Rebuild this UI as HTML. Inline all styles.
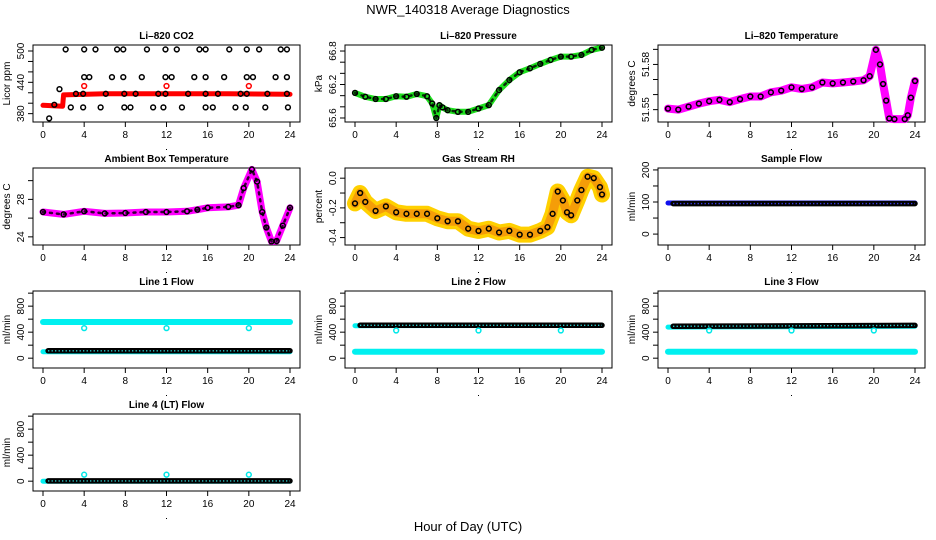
<!DOCTYPE html>
<html><head><meta charset="utf-8"><style>
html,body{margin:0;padding:0;background:#fff;}
svg{display:block;font-family:"Liberation Sans",sans-serif;}
</style></head><body>
<svg id="chart" width="936" height="540" viewBox="0 0 936 540" xmlns="http://www.w3.org/2000/svg">
<text x="468" y="14" text-anchor="middle" font-size="13">NWR_140318  Average Diagnostics</text>
<text x="468" y="531" text-anchor="middle" font-size="13">Hour of Day (UTC)</text>
</svg>
<script>
// ---- data ----
const xTicks = [0,4,8,12,16,20,24];

const co2RedHours = [0,1.9,2.0,6,12,18,24];
const co2RedVals = [396,394,416,418,418,418,417];
const co2BlackHours = [2.2,4.0,5.1,7.2,7.8,10.1,11.9,13.0,15.2,15.8,18.1,19.8,21.0,23.1,23.7,
 4.0,4.5,6.7,9.6,11.9,12.5,14.7,17.6,19.8,20.4,22.6,23.7,7.8,15.8,
 3.2,3.9,6.1,7.9,9.0,11.2,11.9,14.1,15.8,17.0,19.2,19.8,21.8,23.7,
 1.1,2.7,3.9,5.6,7.9,8.5,10.7,11.7,13.5,15.8,16.5,18.7,19.7,21.6,23.8,0.6,1.6];
const co2BlackVals = [503,503,503,503,503,503,503,503,503,503,503,503,503,503,503,
 450,450,450,450,450,450,450,450,450,450,450,450,450,450,
 418,418,418,418,418,418,418,418,418,418,418,418,418,418,
 397,392,392,392,392,392,392,392,392,392,392,392,392,392,392,371,427];
const co2OutHours = [4,12,20];
const co2OutVals = [433,433,433];

const presHours = [0,1,2,3,4,5,6,7,7.5,7.9,8.2,8.5,9,10,11,12,13,14,15,16,17,18,19,20,21,22,23,24];
const presVals = [66.05,65.98,65.94,65.94,65.99,65.98,66.03,65.99,65.86,65.6,65.83,65.79,65.74,65.71,65.71,65.77,65.83,66.1,66.28,66.42,66.49,66.57,66.64,66.70,66.70,66.73,66.82,66.86];

const tempHours = [0,1,2,3,4,5,6,7,8,9,10,11,12,13,14,15,16,17,18,19,19.6,20.2,20.6,20.9,21.2,21.5,22,23,23.3,23.6,24];
const tempVals = [51.5507,51.550,51.552,51.554,51.5556,51.5565,51.555,51.557,51.5587,51.5587,51.5615,51.5626,51.5648,51.5637,51.5648,51.568,51.5674,51.568,51.5687,51.5695,51.5722,51.5897,51.580,51.567,51.556,51.5441,51.5437,51.5437,51.5463,51.558,51.569];

const ambHours = [0,2,4,6,8,10,12,14,15,16,18,19,19.5,20.3,20.8,21.3,21.7,22.2,22.7,23.3,24];
const ambVals = [26.65,26.4,26.73,26.5,26.55,26.65,26.65,26.73,26.9,27.1,27.2,27.38,29.2,31.2,29.9,26.65,25.0,23.5,23.56,25.2,27.1];

const rhHours = [0,0.5,1,2,3,4,5,6,7,8,9,10,11,12,13,14,15,16,17,18,18.7,19.2,19.7,20.2,20.6,21,21.6,22,22.6,23.2,23.8,24];
const rhVals = [-0.17,-0.10,-0.16,-0.22,-0.19,-0.23,-0.24,-0.24,-0.24,-0.27,-0.29,-0.29,-0.34,-0.355,-0.34,-0.366,-0.355,-0.38,-0.38,-0.355,-0.33,-0.24,-0.09,-0.15,-0.23,-0.25,-0.15,-0.08,0.01,0.0,-0.06,-0.11];

const flatHours = [0,24];
const blackHours = [0.5,24];
const outHours = [4,12,20];
const sampleBlue = [97,97];
const sampleBlack = [95,95];
const l1Upper = [556,556];
const l1Lower = [99,99];
const l1Black = [114,114];
const l1Out = [462,462,462];
const l2Upper = [500,505];
const l2Lower = [99,99];
const l2Black = [505,505];
const l2Out = [426,426,426];
const l3Upper = [478,490];
const l3Lower = [99,99];
const l3Black = [490,504];
const l3Out = [426,426,426];
const l4Upper = [0,0];
const l4Black = [5,5];
const l4Out = [100,100,100];

// ---- layout ----
const NS = "http://www.w3.org/2000/svg";
const svg = document.getElementById('chart');
const colX0 = [43,355,668];
const rowTop = [45,168,291,414];
const SPAN = 247, BH = 77;

function mk(tag, attrs, parent){
  const e = document.createElementNS(NS, tag);
  for (const k in attrs) e.setAttribute(k, attrs[k]);
  (parent||svg).appendChild(e);
  return e;
}

function panel(cfg){
  const x0 = colX0[cfg.col], top = rowTop[cfg.row];
  const g = mk('g', {});
  
  
  const xs = h => x0 + h / 24 * SPAN;
  const ys = v => top + BH - (v - cfg.ymin) / (cfg.ymax - cfg.ymin) * BH;
  const box = mk('rect', {x:x0-10, y:top, width:SPAN+20, height:BH, fill:'none', stroke:'#000', 'stroke-width':1}, g);
  
  
  const t = mk('text', {x:x0+SPAN/2, y:top-6, 'text-anchor':'middle', 'font-size':10, 'font-weight':'bold'}, g);
  t.textContent = cfg.title;
  
  
  const by = top + BH;
  xTicks.forEach(h => {
    mk('line', {x1:xs(h), x2:xs(h), y1:by, y2:by+5, stroke:'#000'}, g);
    const l = mk('text', {x:xs(h), y:by+16, 'text-anchor':'middle', 'font-size':10}, g);
    l.textContent = h;
    
    
  });
  mk('line', {x1:xs(0), x2:xs(24), y1:by, y2:by, stroke:'#000'}, g);
  mk('rect', {x:x0+SPAN/2-0.5, y:by+27, width:1, height:1, fill:'#000'}, g);
  const lx = x0 - 10;
  cfg.yticks.forEach(v => mk('line', {x1:lx-5, x2:lx, y1:ys(v), y2:ys(v), stroke:'#000'}, g));
  mk('line', {x1:lx, x2:lx, y1:ys(cfg.yticks[0]), y2:ys(cfg.yticks[cfg.yticks.length-1]), stroke:'#000'}, g);
  cfg.ylabels.forEach(v => {
    const l = mk('text', {x:0, y:0, 'text-anchor':'middle', 'font-size':10, transform:`translate(${lx-9},${ys(v)}) rotate(-90)`}, g);
    l.textContent = v.toFixed(cfg.dec);
    
    
  });
  const yl = mk('text', {x:0, y:0, 'text-anchor':'middle', 'font-size':10, transform:`translate(${lx-23},${top+BH/2}) rotate(-90)`}, g);
  yl.textContent = cfg.ylab;
  
  
  const cg = mk('g', {}, g);
  cfg.series.forEach(s => {
    const pts = s.h.map((h,i) => xs(h).toFixed(1)+','+ys(s.v[i]).toFixed(1)).join(' ');
    if (s.type === 'line') {
      const p = mk('polyline', {points:pts, fill:'none', stroke:s.color, 'stroke-width':s.w, 'stroke-linejoin':'round', 'stroke-linecap':'round', opacity:s.op||1}, cg);
      if (s.dash) p.setAttribute('stroke-dasharray', s.dash);
      
      
    } else if (s.type === 'chain') {
      const p = mk('polyline', {points:pts, fill:'none', stroke:'#000', 'stroke-width':5.5, 'stroke-linecap':'round'}, cg);
      
      
      const q = mk('polyline', {points:pts, fill:'none', stroke:s.inner, 'stroke-width':1.4, 'stroke-dasharray':'1.2 2.3'}, cg);
      
      
    } else {
      s.h.forEach((h,i) => {
        const c = mk('circle', {cx:xs(h), cy:ys(s.v[i]), r:s.r||2.4, fill:'none', stroke:s.color, 'stroke-width':1.5}, cg);
        
        
      });
    }
  });
}

panel({name:'co2-panel', col:0, row:0, title:'Li–820 CO2', ylab:'Licor ppm', ymin:364, ymax:511.5,
  yticks:[380,400,420,440,460,480,500], ylabels:[380,440,500], dec:0,
  series:[{type:'line', name:'co2-line', h:co2RedHours, v:co2RedVals, color:'#f00', w:5},
          {type:'pts', name:'co2-point', h:co2BlackHours, v:co2BlackVals, color:'#000'},
          {type:'pts', name:'co2-outlier', h:co2OutHours, v:co2OutVals, color:'#f00'}]});
panel({name:'pressure-panel', col:1, row:0, title:'Li–820 Pressure', ylab:'kPa', ymin:65.528, ymax:66.908,
  yticks:[65.6,65.8,66.0,66.2,66.4,66.6,66.8], ylabels:[65.6,66.2,66.8], dec:1,
  series:[{type:'line', name:'pressure-line', h:presHours, v:presVals, color:'#1ee01e', w:6},
          {type:'line', name:'pressure-chain', h:presHours, v:presVals, color:'#000', w:2.5, dash:'2 5', op:0.8},
          {type:'pts', name:'pressure-point', h:presHours, v:presVals, color:'#000'}]});
panel({name:'temperature-panel', col:2, row:0, title:'Li–820 Temperature', ylab:'degrees C', ymin:51.5418, ymax:51.5929,
  yticks:[51.55,51.56,51.57,51.58,51.59], ylabels:[51.55,51.58], dec:2,
  series:[{type:'line', name:'temperature-line', h:tempHours, v:tempVals, color:'#ff00ff', w:8},
          {type:'pts', name:'temperature-point', h:tempHours, v:tempVals, color:'#000'}]});
panel({name:'ambient-panel', col:0, row:1, title:'Ambient Box Temperature', ylab:'degrees C', ymin:23.13, ymax:31.35,
  yticks:[24,26,28,30], ylabels:[24,28], dec:0,
  series:[{type:'line', name:'ambient-line', h:ambHours, v:ambVals, color:'#ff00ff', w:7},
          {type:'line', name:'ambient-chain', h:ambHours, v:ambVals, color:'#000', w:2.5, dash:'2 5', op:0.8},
          {type:'pts', name:'ambient-point', h:ambHours, v:ambVals, color:'#000'}]});
panel({name:'rh-panel', col:1, row:1, title:'Gas Stream RH', ylab:'percent', ymin:-0.45, ymax:0.0686,
  yticks:[-0.4,-0.3,-0.2,-0.1,0.0], ylabels:[-0.4,-0.2,0.0], dec:1,
  series:[{type:'line', name:'rh-band', h:rhHours, v:rhVals, color:'#ffd000', w:16},
          {type:'line', name:'rh-core', h:rhHours, v:rhVals, color:'#ec6a10', w:9, op:0.5},
          {type:'pts', name:'rh-point', h:rhHours, v:rhVals, color:'#000'}]});
panel({name:'sample-flow-panel', col:2, row:1, title:'Sample Flow', ylab:'ml/min', ymin:-34, ymax:206,
  yticks:[0,50,100,150,200], ylabels:[0,100,200], dec:0,
  series:[{type:'line', name:'sample-line', h:flatHours, v:sampleBlue, color:'#1010ee', w:5},
          {type:'chain', name:'sample-points', h:blackHours, v:sampleBlack, inner:'#4040ff'}]});
const flowTicks = [0,200,400,600,800,1000], flowLabels = [0,400,800];
panel({name:'line1-panel', col:0, row:2, title:'Line 1 Flow', ylab:'ml/min', ymin:-151, ymax:1033, yticks:flowTicks, ylabels:flowLabels, dec:0,
  series:[{type:'line', name:'line1-upper', h:flatHours, v:l1Upper, color:'#00f0f0', w:6},
          {type:'line', name:'line1-lower', h:flatHours, v:l1Lower, color:'#00f0f0', w:5},
          {type:'chain', name:'line1-points', h:blackHours, v:l1Black, inner:'#30e0e0'},
          {type:'pts', name:'line1-outlier', h:outHours, v:l1Out, color:'#00e8e8'}]});
panel({name:'line2-panel', col:1, row:2, title:'Line 2 Flow', ylab:'ml/min', ymin:-151, ymax:1033, yticks:flowTicks, ylabels:flowLabels, dec:0,
  series:[{type:'line', name:'line2-upper', h:flatHours, v:l2Upper, color:'#00f0f0', w:5},
          {type:'line', name:'line2-lower', h:flatHours, v:l2Lower, color:'#00f0f0', w:6},
          {type:'chain', name:'line2-points', h:blackHours, v:l2Black, inner:'#30e0e0'},
          {type:'pts', name:'line2-outlier', h:outHours, v:l2Out, color:'#00e8e8'}]});
panel({name:'line3-panel', col:2, row:2, title:'Line 3 Flow', ylab:'ml/min', ymin:-151, ymax:1033, yticks:flowTicks, ylabels:flowLabels, dec:0,
  series:[{type:'line', name:'line3-upper', h:flatHours, v:l3Upper, color:'#00f0f0', w:5},
          {type:'line', name:'line3-lower', h:flatHours, v:l3Lower, color:'#00f0f0', w:6},
          {type:'chain', name:'line3-points', h:blackHours, v:l3Black, inner:'#30e0e0'},
          {type:'pts', name:'line3-outlier', h:outHours, v:l3Out, color:'#00e8e8'}]});
panel({name:'line4-panel', col:0, row:3, title:'Line 4 (LT) Flow', ylab:'ml/min', ymin:-151, ymax:1033, yticks:flowTicks, ylabels:flowLabels, dec:0,
  series:[{type:'line', name:'line4-line', h:flatHours, v:l4Upper, color:'#00f0f0', w:5},
          {type:'chain', name:'line4-points', h:blackHours, v:l4Black, inner:'#30e0e0'},
          {type:'pts', name:'line4-outlier', h:outHours, v:l4Out, color:'#00e8e8'}]});
</script>
</body></html>
